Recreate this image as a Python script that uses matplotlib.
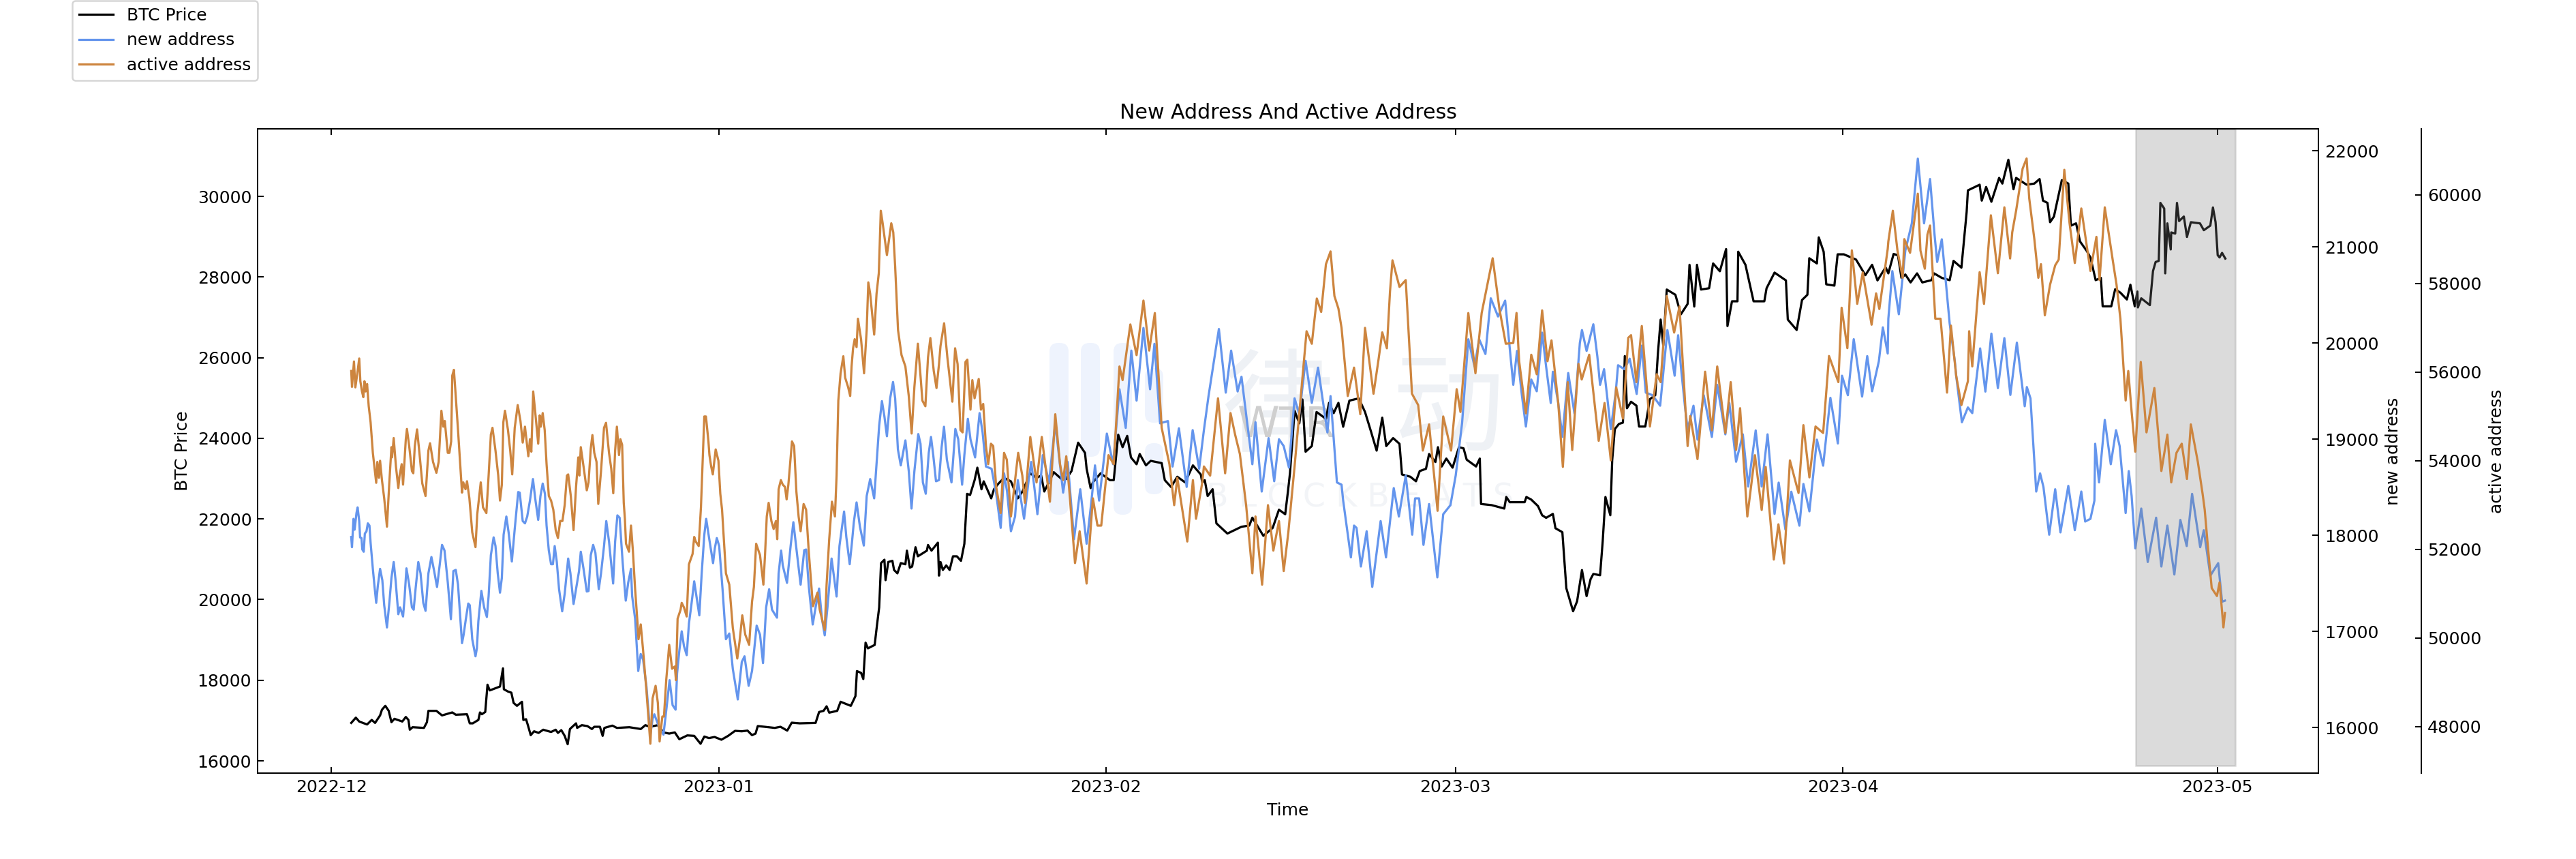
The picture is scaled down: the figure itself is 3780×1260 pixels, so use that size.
"""New address and active address against BTC price, hand-read values."""

import matplotlib
matplotlib.use("Agg")
import matplotlib.dates as mdates
import matplotlib.pyplot as plt
from matplotlib.patches import FancyBboxPatch
import pandas as pd

START = pd.Timestamp("2022-12-01")

# days after START
price_days = [
    1.58, 1.95, 2.22, 2.85, 3.22, 3.49, 3.89, 4.04, 4.31, 4.58, 4.8, 5.04,
    5.67, 5.95, 6.16, 6.27, 6.49, 7.4, 7.64, 7.76, 8.4, 8.85, 9.67, 9.95,
    10.85, 11.07, 11.31, 11.76, 11.89, 12.04, 12.31, 12.49, 12.67, 13.49, 13.73, 13.8,
    14.13, 14.4, 14.58, 14.85, 15.25, 15.36, 15.58, 15.76, 15.95, 16.22, 16.58, 16.95,
    17.58, 17.95, 18.13, 18.4, 18.67, 18.91, 19.09, 19.58, 19.67, 20.04, 20.49, 20.85,
    21.04, 21.49, 21.71, 21.85, 22.49, 22.85, 23.85, 24.76, 25.13, 25.49, 26.13, 26.58,
    27.04, 27.49, 27.85, 28.04, 28.49, 29.04, 29.55, 29.85, 30.22, 30.67, 31.22, 31.76,
    32.31, 32.85, 33.31, 33.67, 33.95, 34.13, 34.67, 35.49, 35.95, 36.49, 36.85, 37.49,
    38.76, 39.04, 39.4, 39.64, 39.85, 40.49, 40.76, 41.58, 41.95, 42.07, 42.4, 42.58,
    42.76, 42.95, 43.49, 43.67, 43.85, 44.0, 44.27, 44.36, 44.58, 44.91, 45.04, 45.31,
    45.58, 45.95, 46.07, 46.31, 46.49, 46.76, 46.95, 47.67, 47.76, 48.04, 48.55, 48.64,
    48.76, 48.95, 49.22, 49.49, 49.76, 50.07, 50.4, 50.67, 50.89, 51.13, 51.49, 51.71,
    52.04, 52.22, 52.82, 53.04, 53.4, 53.85, 54.4, 54.95, 55.32, 55.95, 56.45, 56.82,
    57.07, 57.83, 58.45, 58.83, 59.25, 59.78, 60.33, 60.46, 60.78, 60.96, 61.58, 62.33,
    62.63, 62.99, 63.34, 63.71, 64.01, 64.46, 64.71, 65.21, 65.59, 66.47, 66.72, 67.22,
    67.72, 68.35, 68.97, 69.6, 69.72, 69.92, 70.15, 70.55, 70.85, 71.73, 72.86, 73.48,
    73.73, 74.61, 75.36, 75.86, 76.36, 76.61, 76.74, 77.11, 77.49, 77.74, 77.99, 78.49,
    78.87, 79.62, 79.87, 80.24, 80.62, 81.0, 81.5, 82.25, 82.75, 83.25, 83.68, 84.13,
    84.45, 85.0, 85.51, 85.71, 86.38, 86.83, 87.13, 87.63, 87.88, 88.39, 88.59, 88.89,
    89.26, 89.76, 90.27, 90.64, 90.89, 91.64, 91.94, 92.04, 92.89, 93.9, 94.06, 94.34,
    95.53, 95.67, 96.06, 96.6, 96.93, 97.25, 97.79, 98.0, 98.55, 98.87, 99.41, 99.73,
    100.12, 100.49, 100.81, 101.03, 101.57, 101.78, 102.0, 102.39, 102.54, 102.75, 103.08, 103.4,
    103.55, 103.72, 104.05, 104.48, 104.69, 105.19, 105.56, 105.99, 106.2, 106.42, 106.63, 106.91,
    107.6, 108.04, 108.58, 108.73, 109.11, 109.33, 109.65, 110.3, 110.62, 111.16, 111.66, 111.77,
    112.13, 112.57, 112.63, 113.21, 113.86, 114.72, 114.9, 115.54, 116.45, 116.6, 117.31, 117.74,
    118.17, 118.32, 118.93, 119.08, 119.47, 119.68, 120.33, 120.59, 121.09, 122.06, 122.81, 123.35,
    123.78, 124.43, 124.65, 125.07, 125.42, 125.7, 126.01, 126.43, 126.95, 127.37, 128.1, 128.31,
    128.93, 129.56, 129.87, 130.5, 130.92, 131.02, 131.96, 132.13, 132.48, 132.9, 133.52, 133.78,
    134.26, 134.67, 134.88, 135.72, 136.34, 136.76, 137.03, 137.39, 137.6, 137.91, 138.54, 139.06,
    139.27, 139.68, 140.0, 140.52, 140.83, 141.25, 141.67, 141.81, 142.5, 142.81, 143.23, 143.75,
    144.03, 144.38, 144.59, 144.63, 144.9, 145.59, 145.84, 146.05, 146.3, 146.43, 146.74, 146.82,
    146.99, 147.26, 147.3, 147.62, 147.76, 147.93, 148.31, 148.56, 148.87, 149.6, 149.91, 150.43,
    150.64, 150.85, 151.02, 151.17, 151.37, 151.63,
]
price_values = [
    16941, 17071, 16975, 16902, 17015, 16941, 17127, 17268, 17364, 17240, 16958, 17043,
    16975, 17088, 17015, 16772, 16834, 16817, 16958, 17240, 17240, 17127, 17201, 17144,
    17156, 16930, 16930, 17015, 17201, 17156, 17212, 17888, 17747, 17843, 18294, 17775,
    17719, 17691, 17437, 17364, 17465, 17015, 17032, 16846, 16637, 16733, 16693, 16772,
    16716, 16772, 16693, 16761, 16620, 16412, 16789, 16930, 16817, 16885, 16862, 16789,
    16845, 16845, 16620, 16817, 16874, 16817, 16834, 16789, 16885, 16845, 16885, 16705,
    16676, 16705, 16536, 16564, 16631, 16620, 16423, 16603, 16564, 16592, 16524, 16620,
    16744, 16733, 16750, 16637, 16676, 16862, 16845, 16817, 16845, 16750, 16947, 16930,
    16941, 17212, 17240, 17353, 17195, 17240, 17465, 17364, 17606, 18226, 18181, 18029,
    18931, 18790, 18875, 19354, 19804, 20904, 20988, 20481, 20932, 20960, 20734, 20650,
    20904, 20875, 21213, 20791, 20819, 21298, 21073, 21213, 21354, 21213, 21411, 20594,
    20932, 20734, 20847, 20734, 21073, 21073, 20960, 21382, 22622, 22594, 22961, 23271,
    22735, 22932, 22510, 22735, 22876, 23017, 22932, 22510, 22680, 23131, 23018, 23074,
    22680, 23159, 22990, 22990, 23187, 23891, 23638, 23243, 22764, 22905, 23131, 22961,
    22961, 24089, 23779, 24060, 23525, 23356, 23610, 23328, 23440, 23384, 22961, 22792,
    23046, 22905, 23328, 23102, 22905, 22961, 22567, 22736, 21890, 21637, 21806, 21834,
    22031, 21581, 21778, 22229, 22116, 22764, 23131, 24680, 24370, 24962, 23666, 23807,
    24652, 24483, 24878, 24624, 24878, 24286, 24934, 24990, 24652, 24145, 23694, 24511,
    23807, 24004, 23863, 23102, 23046, 22933, 23187, 23243, 23610, 23412, 23779, 23300,
    23497, 23271, 23779, 23750, 23469, 23300, 23497, 22370, 22342, 22257, 22544, 22415,
    22415, 22544, 22479, 22318, 22091, 22027, 22124, 21768, 21671, 20279, 19710, 19956,
    20732, 20085, 20506, 20635, 20603, 21444, 22544, 22091, 23450, 24227, 24356, 24388,
    26039, 24744, 24906, 24809, 24291, 24291, 24971, 25068, 26103, 26944, 26297, 27689,
    27559, 27074, 27333, 28303, 27268, 28303, 27689, 27721, 28336, 28142, 28692, 26783,
    27397, 27397, 28627, 28303, 27397, 27397, 27721, 28109, 27915, 26944, 26686, 27430,
    27559, 28465, 28336, 28983, 28627, 27818, 27786, 28562, 28562, 28433, 28045, 28303,
    27915, 28239, 28090, 28570, 28541, 27978, 28062, 27865, 28090, 27865, 27921, 28090,
    27978, 27921, 28400, 28231, 29612, 30148, 30289, 29894, 30232, 29866, 30458, 30317,
    30908, 30176, 30458, 30289, 30317, 30429, 29894, 29838, 29359, 29500, 30401, 30317,
    29274, 29330, 28880, 28654, 28485, 27921, 27978, 27273, 27273, 27696, 27611, 27442,
    27809, 27273, 27640, 27245, 27471, 27302, 28147, 28372, 28400, 29838, 29697, 28090,
    29330, 28682, 29105, 29077, 29838, 29387, 29500, 28992, 29359, 29330, 29161, 29274,
    29725, 29359, 28541, 28485, 28598, 28457,
]

new_days = [
    1.58, 1.64, 1.76, 1.85, 2.0, 2.09, 2.22, 2.29, 2.4, 2.47, 2.58, 2.67,
    2.8, 2.91, 3.04, 3.13, 3.31, 3.45, 3.58, 3.71, 3.89, 4.07, 4.22, 4.44,
    4.64, 4.8, 4.98, 5.13, 5.35, 5.49, 5.73, 5.85, 6.0, 6.22, 6.44, 6.58,
    6.73, 6.95, 7.13, 7.35, 7.53, 7.76, 8.0, 8.22, 8.45, 8.67, 8.85, 9.05,
    9.31, 9.56, 9.76, 9.95, 10.13, 10.45, 10.58, 10.76, 10.95, 11.07, 11.27, 11.53,
    11.64, 11.76, 12.0, 12.22, 12.44, 12.58, 12.76, 12.98, 13.13, 13.31, 13.49, 13.64,
    13.78, 14.0, 14.18, 14.44, 14.67, 14.95, 15.07, 15.31, 15.49, 15.67, 15.89, 16.13,
    16.31, 16.55, 16.73, 16.91, 17.09, 17.22, 17.4, 17.58, 17.73, 17.87, 18.04, 18.22,
    18.47, 18.67, 18.95, 19.13, 19.38, 19.58, 19.82, 19.96, 20.18, 20.44, 20.58, 20.76,
    20.95, 21.13, 21.4, 21.58, 21.82, 22.0, 22.22, 22.55, 22.71, 22.89, 23.07, 23.31,
    23.56, 23.76, 23.98, 24.07, 24.31, 24.56, 24.76, 24.95, 25.22, 25.53, 25.71, 25.85,
    26.18, 26.58, 26.85, 27.07, 27.31, 27.55, 27.67, 27.85, 28.04, 28.22, 28.44, 28.62,
    28.8, 29.04, 29.27, 29.45, 29.64, 29.85, 30.0, 30.22, 30.55, 30.69, 30.85, 31.04,
    31.31, 31.58, 31.85, 32.13, 32.53, 32.85, 33.07, 33.4, 33.67, 34.04, 34.31, 34.55,
    34.8, 35.04, 35.27, 35.67, 35.8, 36.0, 36.13, 36.47, 36.76, 36.98, 37.22, 37.56,
    37.85, 38.0, 38.22, 38.53, 38.76, 39.04, 39.27, 39.49, 39.71, 40.04, 40.44, 40.67,
    41.04, 41.22, 41.49, 41.67, 41.82, 42.04, 42.31, 42.62, 42.85, 43.13, 43.45, 43.67,
    43.85, 44.07, 44.27, 44.47, 44.73, 44.96, 45.13, 45.35, 45.58, 45.95, 46.22, 46.44,
    46.67, 46.98, 47.16, 47.35, 47.58, 47.82, 48.0, 48.18, 48.4, 48.64, 48.85, 49.04,
    49.27, 49.64, 49.95, 50.18, 50.49, 50.67, 50.95, 51.16, 51.53, 51.89, 52.13, 52.4,
    52.85, 53.22, 53.58, 53.85, 54.09, 54.4, 54.73, 54.95, 55.45, 55.82, 56.02, 56.27,
    56.52, 56.7, 56.95, 57.45, 57.95, 58.58, 58.95, 59.45, 59.95, 60.46, 60.83, 61.13,
    61.46, 62.08, 62.58, 63.09, 63.59, 64.04, 64.46, 65.01, 65.54, 65.89, 66.34, 66.97,
    67.34, 67.85, 68.47, 68.95, 69.47, 69.85, 70.22, 71.05, 71.6, 72.03, 72.55, 72.86,
    73.23, 73.73, 73.98, 74.48, 75.03, 75.48, 75.86, 76.24, 76.66, 77.11, 77.49, 77.99,
    78.49, 78.99, 79.74, 79.99, 80.5, 80.87, 81.0, 81.62, 81.87, 82.07, 82.42, 82.88,
    83.33, 84.0, 84.43, 85.05, 85.46, 86.01, 86.53, 86.76, 87.08, 87.43, 87.88, 88.54,
    89.01, 89.59, 90.01, 90.52, 91.02, 91.52, 91.89, 92.39, 92.82, 93.4, 93.97, 94.62,
    94.92, 95.31, 95.63, 96.06, 96.5, 96.93, 97.25, 97.62, 97.79, 98.22, 98.55, 99.02,
    99.52, 99.95, 100.12, 100.49, 101.03, 101.35, 101.57, 101.89, 102.43, 102.82, 103.01, 103.51,
    103.94, 104.5, 104.91, 105.23, 105.77, 106.38, 106.96, 107.54, 107.82, 108.04, 108.36, 108.58,
    109.05, 109.37, 109.87, 110.52, 110.95, 111.6, 111.92, 112.46, 113.0, 113.43, 114.03, 114.51,
    114.98, 115.54, 115.87, 116.41, 116.88, 117.53, 117.85, 118.33, 118.93, 119.43, 120.01, 120.61,
    120.94, 121.41, 121.88, 122.55, 122.96, 123.35, 123.89, 124.21, 124.6, 124.65, 124.97, 125.49,
    126.01, 126.53, 127.01, 127.51, 127.99, 128.35, 128.56, 128.93, 129.24, 129.56, 129.98, 130.08,
    130.54, 131.02, 131.37, 132.0, 132.42, 132.9, 133.42, 133.94, 134.42, 134.94, 135.57, 135.74,
    136.03, 136.49, 136.8, 137.07, 137.53, 138.01, 138.43, 139.06, 139.58, 140.1, 140.41, 140.83,
    141.15, 141.21, 141.52, 141.98, 142.46, 142.88, 143.17, 143.65, 143.9, 144.13, 144.42, 144.9,
    145.42, 146.09, 146.51, 146.99, 147.55, 148.03, 148.54, 148.97, 149.62, 149.91, 150.43, 151.06,
    151.37, 151.6,
]
new_values = [
    17981, 17875, 18170, 18057, 18230, 18289, 18147, 17977, 17970, 17851, 17828, 18017,
    18040, 18123, 18100, 17922, 17650, 17461, 17296, 17473, 17650, 17532, 17272, 17040,
    17308, 17556, 17721, 17532, 17178, 17249, 17154, 17343, 17655, 17485, 17249, 17225,
    17438, 17721, 17603, 17296, 17213, 17603, 17773, 17627, 17461, 17698, 17899, 17840,
    17509, 17126, 17627, 17639, 17485, 16877, 16965, 17130, 17289, 17272, 16918, 16740,
    16823, 17107, 17421, 17249, 17149, 17367, 17792, 17977, 17887, 17603, 17402, 17556,
    18005, 18194, 18029, 17726, 18064, 18449, 18442, 18147, 18123, 18194, 18360, 18584,
    18383, 18159, 18407, 18537, 18430, 18100, 17840, 17698, 17698, 17887, 17721, 17438,
    17208, 17390, 17757, 17603, 17284, 17438, 17627, 17828, 17650, 17414, 17419, 17792,
    17899, 17816, 17438, 17603, 17887, 18147, 17934, 17497, 17934, 18206, 18182, 17721,
    17319, 17509, 17650, 17367, 17130, 16587, 16764, 16705, 16421, 15925, 16090, 16137,
    16019, 15925, 16232, 16492, 16232, 16185, 16563, 16799, 17000, 16847, 16752, 17083,
    17260, 17520, 17319, 17166, 17603, 18005, 18170, 17981, 17709, 17863, 17970, 17887,
    17438, 16918, 16977, 16610, 16291, 16681, 16740, 16433, 16587, 17059, 16965, 16669,
    17249, 17438, 17225, 17142, 17603, 17840, 17686, 17504, 17887, 18135, 17863, 17485,
    17844, 17851, 17461, 17071, 17249, 17445, 17130, 16958, 17249, 17757, 17362, 17887,
    18246, 17981, 17698, 17922, 18135, 18341, 18088, 17892, 18407, 18584, 18383, 18797,
    19140, 19395, 19235, 19029, 19424, 19594, 19424, 18892, 18726, 18986, 18667, 18277,
    18667, 19052, 18951, 18549, 18431, 18856, 19022, 18833, 18561, 18573, 18915, 19128,
    18785, 18549, 19105, 18998, 18525, 18833, 19211, 18998, 18809, 19270, 19069, 18714,
    18691, 18431, 18076, 18644, 18454, 18041, 18194, 18573, 18171, 18573, 18762, 18502,
    18218, 18454, 18833, 18549, 19164, 18443, 18762, 17958, 18478, 17911, 18336, 18726,
    18360, 19057, 18738, 19518, 19116, 19920, 19400, 20156, 19518, 19991, 19164, 19187,
    18714, 19112, 18502, 19093, 18691, 19093, 19447, 20145, 19483, 19920, 19495, 19648,
    19258, 18738, 19175, 18454, 19010, 18561, 18998, 18927, 18703, 19424, 19258, 19814,
    19376, 19743, 19069, 19447, 18549, 18525, 18360, 17769, 18100, 18076, 17674, 18041,
    17462, 18147, 17769, 18490, 18194, 18620, 18005, 18383, 18383, 17899, 18324, 17561,
    18218, 18313, 18620, 19164, 20038, 19755, 20038, 19885, 20464, 20275, 20440, 19564,
    19917, 19456, 19130, 19619, 19497, 20107, 19754, 19375, 19700, 19375, 19022, 19687,
    19266, 19999, 20134, 19917, 20194, 19863, 19564, 19727, 19103, 19483, 19768, 19727,
    19836, 19469, 19972, 19483, 19456, 19347, 20134, 19659, 20080, 19754, 19347, 19103,
    19347, 18994, 19456, 19022, 19564, 19049, 19375, 18764, 19049, 18506, 19090, 18506,
    19049, 18221, 18547, 18058, 18452, 18099, 18533, 18248, 18994, 18723, 19429, 18954,
    19659, 19456, 20039, 19442, 19863, 19497, 19809, 20162, 19890, 20251, 20747, 20298,
    20960, 21244, 21917, 21244, 21705, 21125, 20842, 21078, 20653, 20203, 19802, 19660,
    19175, 19329, 19270, 19943, 19494, 20097, 19530, 20050, 19459, 20003, 19341, 19541,
    19423, 18454, 18643, 18501, 18005, 18478, 18029, 18513, 18052, 18454, 18142, 18170,
    18359, 18951, 18549, 19199, 18738, 19092, 18927, 18230, 18667, 18407, 17863, 18277,
    17721, 18182, 17674, 18100, 17591, 18159, 17887, 18430, 17875, 18052, 17579, 17709,
    17308, 17319,
]

active_days = [
    1.58, 1.64, 1.8, 1.91, 2.07, 2.22, 2.31, 2.44, 2.55, 2.64, 2.73, 2.85,
    2.98, 3.13, 3.31, 3.58, 3.67, 3.8, 3.89, 4.04, 4.22, 4.44, 4.62, 4.8,
    4.85, 4.98, 5.16, 5.35, 5.45, 5.62, 5.73, 5.95, 6.04, 6.22, 6.44, 6.55,
    6.67, 6.85, 7.04, 7.27, 7.53, 7.76, 7.89, 8.13, 8.4, 8.58, 8.8, 8.95,
    9.07, 9.31, 9.44, 9.58, 9.67, 9.8, 9.91, 10.13, 10.45, 10.55, 10.73, 10.85,
    11.04, 11.27, 11.53, 11.67, 11.95, 12.13, 12.4, 12.58, 12.76, 12.89, 13.13, 13.35,
    13.49, 13.64, 13.76, 13.89, 14.13, 14.31, 14.47, 14.67, 14.91, 15.13, 15.31, 15.49,
    15.76, 15.89, 16.0, 16.15, 16.31, 16.55, 16.67, 16.76, 16.91, 17.07, 17.22, 17.4,
    17.58, 17.76, 17.95, 18.13, 18.31, 18.49, 18.67, 18.85, 18.95, 19.16, 19.38, 19.58,
    19.76, 19.85, 19.96, 20.18, 20.44, 20.58, 20.76, 20.89, 21.04, 21.22, 21.36, 21.58,
    21.82, 21.98, 22.22, 22.4, 22.56, 22.71, 22.85, 23.02, 23.13, 23.27, 23.4, 23.49,
    23.58, 23.82, 23.98, 24.13, 24.31, 24.49, 24.58, 24.76, 24.95, 25.22, 25.53, 25.71,
    25.95, 26.13, 26.27, 26.49, 26.62, 26.8, 27.04, 27.27, 27.49, 27.58, 27.71, 27.95,
    28.04, 28.22, 28.44, 28.62, 28.91, 29.04, 29.16, 29.4, 29.58, 29.85, 29.98, 30.18,
    30.26, 30.4, 30.53, 30.76, 30.98, 31.13, 31.27, 31.58, 31.85, 32.13, 32.49, 32.67,
    32.89, 33.13, 33.44, 33.67, 33.82, 34.0, 34.31, 34.58, 34.71, 34.85, 35.0, 35.22,
    35.4, 35.58, 35.69, 35.8, 35.98, 36.13, 36.31, 36.44, 36.58, 36.87, 37.04, 37.22,
    37.4, 37.56, 37.8, 38.0, 38.22, 38.55, 38.91, 39.09, 39.49, 39.64, 39.85, 40.07,
    40.31, 40.44, 40.58, 40.76, 40.98, 41.13, 41.36, 41.53, 41.64, 41.76, 41.89, 42.04,
    42.15, 42.4, 42.64, 42.85, 42.98, 43.13, 43.45, 43.64, 43.82, 43.98, 44.13, 44.47,
    44.82, 44.98, 45.13, 45.36, 45.64, 45.95, 46.22, 46.45, 46.67, 46.95, 47.13, 47.31,
    47.55, 47.76, 47.95, 48.22, 48.44, 48.64, 48.76, 49.05, 49.31, 49.71, 49.93, 50.13,
    50.36, 50.53, 50.76, 50.91, 51.16, 51.31, 51.49, 51.82, 52.0, 52.18, 52.4, 52.58,
    52.8, 52.98, 53.22, 53.58, 53.85, 54.07, 54.4, 54.67, 54.98, 55.31, 55.52, 55.95,
    56.45, 56.87, 57.52, 57.95, 58.33, 58.58, 58.83, 59.08, 59.53, 59.9, 60.46, 60.96,
    61.33, 61.63, 62.21, 62.63, 63.09, 63.34, 63.96, 64.46, 65.01, 65.47, 65.92, 66.47,
    67.09, 67.47, 67.72, 68.52, 68.97, 69.22, 69.72, 69.85, 70.35, 70.98, 71.55, 71.98,
    72.35, 72.73, 73.23, 73.73, 73.98, 74.51, 74.98, 75.41, 75.86, 76.24, 76.61, 77.11,
    77.61, 78.07, 78.49, 78.89, 79.24, 79.62, 79.99, 80.3, 80.62, 80.87, 81.37, 81.87,
    82.37, 82.75, 83.43, 83.83, 84.13, 84.5, 84.75, 84.95, 85.51, 86.01, 86.51, 87.01,
    87.38, 87.88, 88.56, 89.01, 89.64, 90.09, 90.39, 91.02, 91.59, 92.09, 92.97, 93.52,
    94.02, 94.62, 94.88, 95.09, 95.63, 96.06, 96.5, 96.93, 97.36, 97.68, 98.22, 98.59,
    98.98, 99.34, 99.84, 100.1, 100.7, 101.46, 101.93, 102.43, 102.86, 103.4, 103.83, 104.05,
    104.48, 104.91, 105.56, 106.1, 106.42, 106.91, 107.5, 107.93, 108.58, 108.79, 109.37, 109.98,
    110.52, 110.95, 111.6, 112.03, 112.46, 112.78, 113.36, 113.97, 114.51, 114.83, 115.48, 115.85,
    116.3, 116.77, 117.46, 117.85, 118.33, 118.82, 119.43, 119.9, 120.65, 120.91, 121.37, 121.73,
    122.16, 122.6, 123.31, 123.67, 123.93, 124.6, 124.65, 125.01, 125.38, 125.8, 125.93, 126.39,
    127.01, 127.22, 127.57, 127.78, 127.99, 128.41, 128.83, 129.35, 129.66, 130.08, 130.5, 131.02,
    131.12, 131.37, 131.96, 132.31, 132.86, 133.42, 133.94, 134.4, 134.57, 134.88, 135.09, 135.4,
    135.72, 135.93, 136.34, 136.66, 136.87, 137.18, 137.6, 138.01, 138.29, 138.74, 139.16, 139.58,
    140.1, 140.83, 141.31, 141.56, 141.98, 142.61, 142.92, 143.23, 143.65, 143.86, 144.13, 144.42,
    144.86, 145.32, 145.95, 146.51, 146.99, 147.3, 147.72, 148.14, 148.56, 148.87, 149.43, 149.81,
    149.98, 150.23, 150.54, 150.96, 151.17, 151.48, 151.6,
]
active_values = [
    56026, 55667, 56241, 55656, 55975, 56308, 55795, 55564, 55436, 55795, 55564, 55733,
    55230, 54871, 54178, 53501, 53973, 53614, 53999, 53562, 53152, 52511, 53460, 54307,
    54076, 54512, 53870, 53383, 53665, 53922, 53460, 54486, 54717, 54332, 53768, 53717,
    54332, 54707, 54178, 53486, 53203, 54230, 54394, 53973, 53727, 53973, 55128, 54769,
    54897, 54178, 54178, 54435, 55923, 56052, 55615, 54692, 53280, 53511, 53357, 53537,
    53152, 52382, 52049, 52793, 53511, 52947, 52818, 53665, 54589, 54743, 54230, 53665,
    53101, 53460, 54871, 55128, 54692, 54230, 53691, 54743, 55256, 54897, 54409, 54769,
    54101, 54486, 54204, 55564, 55102, 54384, 55025, 54769, 55076, 54692, 53922, 53203,
    53101, 52895, 52434, 52254, 52639, 52639, 52998, 53665, 53691, 53203, 52434, 53409,
    54076, 53665, 54307, 53870, 53332, 53511, 54281, 54579, 54178, 53973, 53024, 53768,
    54743, 54856, 54178, 53819, 53265, 54230, 54769, 54127, 54486, 54358, 53048, 52690,
    52126, 51946, 52536, 51972, 51099, 50380, 49970, 50304, 49714, 48790, 47610, 48636,
    48918, 48533, 47661, 48225, 48225, 49046, 49842, 49303, 49354, 49046, 50432, 50637,
    50791, 50688, 50483, 51663, 51895, 52279, 52177, 52074, 52946, 54999, 54999, 54435,
    54127, 53870, 53691, 54255, 53999, 53254, 52895, 51458, 51202, 50227, 49534, 49919,
    50509, 50073, 49842, 50817, 51150, 52125, 51869, 51202, 51869, 52741, 53049, 52638,
    52459, 52638, 52228, 53357, 53562, 53460, 53408, 53126, 53460, 54435, 54332, 53306,
    52741, 52408, 53023, 52895, 51920, 50714, 51022, 50637, 50175, 51202, 52228, 53075,
    52741, 53665, 55358, 55974, 56359, 55872, 55666, 55461, 56128, 56539, 56744, 56565,
    57206, 56744, 55974, 56950, 58027, 57771, 56847, 57771, 58232, 59644, 59361, 58643,
    59361, 59156, 58386, 56950, 56385, 56128, 55461, 54614, 55666, 56642, 56026, 55358,
    55230, 56334, 56770, 56026, 55641, 56180, 56590, 57103, 56334, 55333, 56539, 56180,
    54691, 54640, 56231, 56282, 55153, 55820, 55410, 55846, 55153, 55282, 54332, 53922,
    54384, 54332, 53408, 52818, 54178, 54024, 52741, 53408, 54178, 53665, 53049, 54537,
    53510, 54537, 53074, 55050, 53921, 53562, 54101, 53305, 51689, 52407, 51227, 53151,
    52535, 52535, 54126, 53921, 56128, 55820, 57077, 56384, 57616, 56487, 57334, 54742,
    53921, 52997, 53613, 52176, 53562, 52689, 53510, 53870, 53664, 55409, 53716, 55076,
    54588, 54152, 52997, 51458, 52741, 51201, 52997, 51971, 52638, 51509, 52381, 53870,
    55461, 56923, 56641, 57662, 57359, 58437, 58725, 57719, 57436, 57000, 55461, 56102,
    55050, 57000, 55512, 56282, 56898, 56538, 57821, 58524, 57924, 58078, 55512, 55255,
    54229, 54819, 52869, 54999, 54229, 55615, 55101, 57334, 55974, 57334, 58571, 57411,
    56641, 56659, 57336, 56246, 55068, 56393, 55952, 57395, 56246, 56717, 55303, 53860,
    55775, 54243, 56187, 55834, 56393, 54449, 55303, 54007, 55657, 54950, 56776, 56835,
    55775, 57042, 54773, 55952, 55775, 57719, 56894, 57483, 54331, 55009, 54037, 56010,
    54685, 56128, 54626, 55775, 54243, 55186, 52740, 54125, 52888, 53860, 51768, 52564,
    51680, 54007, 53271, 54803, 53624, 54773, 54626, 56364, 55775, 57454, 56541, 58750,
    57542, 58249, 57071, 57778, 57425, 58780, 58951, 59644, 58746, 58130, 59003, 58695,
    60029, 58746, 58335, 59105, 59310, 57206, 57206, 55538, 57052, 55923, 55256, 55795,
    56924, 56129, 58258, 57540, 59541, 58233, 59721, 58566, 59157, 59644, 60029, 60593,
    60824, 59926, 59003, 58130, 58438, 57283, 57976, 58412, 58541, 60568, 59362, 58464,
    59695, 58284, 59054, 58079, 59721, 58541, 57976, 57206, 55359, 56026, 55102, 54204,
    56231, 54640, 55641, 53768, 54589, 53511, 54179, 54384, 53588, 54820, 53973, 53255,
    52895, 52074, 51125, 50945, 51253, 50237, 50560,
]

price_ticks = [16000, 18000, 20000, 22000, 24000, 26000, 28000, 30000]
new_ticks = [16000, 17000, 18000, 19000, 20000, 21000, 22000]
active_ticks = [48000, 50000, 52000, 54000, 56000, 58000, 60000]
month_ticks = ["2022-12-01", "2023-01-01", "2023-02-01", "2023-03-01", "2023-04-01", "2023-05-01"]

WATERMARK_FONTS = ["Noto Sans CJK SC", "DejaVu Sans"]


def to_dates(days):
    return START + pd.to_timedelta(days, unit="D")


def add_watermark(fig, ax):
    """Faint logo behind the lines, placed in figure pixels."""
    dpi = fig.dpi
    width, height = fig.get_size_inches() * dpi
    # left, right, top, bottom of the logo bars
    bars = [(1540, 1568, 503, 755), (1586, 1614, 503, 670),
            (1634, 1661, 503, 755), (1680, 1707, 540, 620), (1680, 1707, 650, 725)]
    for left, right, top, bottom in bars:
        ax.add_patch(FancyBboxPatch(
            (left / dpi, (height - bottom) / dpi), (right - left) / dpi, (bottom - top) / dpi,
            boxstyle=f"round,pad=0,rounding_size={13 / dpi}",
            transform=fig.dpi_scale_trans, facecolor="#eef3fd", edgecolor="none", zorder=0.5,
        ))
    ax.text(1875 / width, 1 - 603 / height, "律", transform=fig.transFigure, fontsize=66,
            family=WATERMARK_FONTS, color="#eef1f5", ha="center", va="center", zorder=0.6)
    ax.text(2125 / width, 1 - 603 / height, "动", transform=fig.transFigure, fontsize=66,
            family=WATERMARK_FONTS, color="#eef1f5", ha="center", va="center", zorder=0.6)
    ax.text(1995 / width, 1 - 730 / height, "B L O C K B E A T S", transform=fig.transFigure,
            fontsize=19, color="#f2f4f7", ha="center", va="center", zorder=0.6)
    ax.text(1888 / width, 1 - 625 / height, "WTR", transform=fig.transFigure, fontsize=25,
            color="#cfcfcf", ha="center", va="center", zorder=0.7)


fig = plt.figure(figsize=(21, 7), dpi=180)
ax = fig.add_axes([0.1, 0.1, 0.8, 0.75])
ax2 = ax.twinx()
ax3 = ax.twinx()

line1, = ax.plot(to_dates(price_days), price_values, color="black", lw=1.3, label="BTC Price")
line2, = ax2.plot(to_dates(new_days), new_values, color="cornflowerblue", lw=1.3, label="new address")
line3, = ax3.plot(to_dates(active_days), active_values, color="peru", lw=1.3, label="active address")

add_watermark(fig, ax)

ax3.axvspan(pd.Timestamp("2023-04-24 11:00"), pd.Timestamp("2023-05-02 10:00"),
            ymin=0.0116, ymax=1, color="gray", alpha=0.28)

ax.set_xlim(pd.Timestamp("2022-11-25 02:00"), pd.Timestamp("2023-05-09 02:00"))
ax.set_ylim(15696, 31674)
ax2.set_ylim(15525, 22227)
ax3.set_ylim(46947, 61493)

ax.set_xticks(pd.to_datetime(month_ticks))
ax.xaxis.set_major_formatter(mdates.DateFormatter("%Y-%m"))
ax.set_yticks(price_ticks)
ax2.set_yticks(new_ticks)
ax3.set_yticks(active_ticks)

ax.tick_params(axis="x", which="both", direction="in", top=True)
ax.tick_params(axis="y", direction="in")
ax2.tick_params(axis="y", direction="in")
ax3.tick_params(axis="y", direction="in")
ax3.spines["right"].set_position(("axes", 1.05))

ax.set_title("New Address And Active Address")
ax.set_xlabel("Time")
ax.set_ylabel("BTC Price")
ax2.set_ylabel("new address")
ax3.set_ylabel("active address")

fig.legend(handles=[line1, line2, line3], loc="upper left",
           bbox_to_anchor=(106 / 3780, 0.9993), borderaxespad=0)

fig.savefig("out.png", dpi=180)
